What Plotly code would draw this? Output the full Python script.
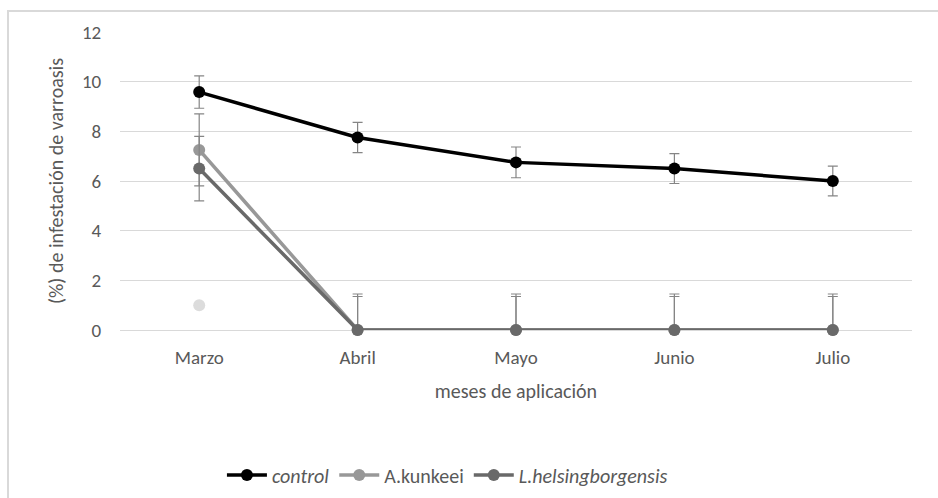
import plotly.graph_objects as go

months = ["Marzo", "Abril", "Mayo", "Junio", "Julio"]
control = [9.58, 7.75, 6.75, 6.5, 6.0]
control_err = [0.65, 0.61, 0.62, 0.6, 0.6]
kunkeei = [7.25, 0, 0, 0, 0]
kunkeei_err = [1.45, 1.45, 1.45, 1.45, 1.45]
helsing = [6.5, 0, 0, 0, 0]
helsing_err = [1.3, 1.35, 1.35, 1.35, 1.35]
extra_x = ["Marzo"]
extra = [1.0]

FONT = "Calibri, Carlito, Lato, sans-serif"
TXT = "#595959"

def minus(vals, errs):
    return [min(v, e) for v, e in zip(vals, errs)]

fig = go.Figure()
series = [
    ("<i>control</i>", control, control_err, "#000000"),
    ("A.kunkeei", kunkeei, kunkeei_err, "#989898"),
    ("<i>L.helsingborgensis</i>", helsing, helsing_err, "#696969"),
]
for name, vals, errs, col in series:
    fig.add_trace(go.Scatter(
        x=months, y=vals, name=name, mode="lines+markers",
        line=dict(color=col, width=3.5),
        marker=dict(color=col, size=12),
        error_y=dict(type="data", array=errs, arrayminus=minus(vals, errs),
                     color="#858585", thickness=1.2, width=5),
        cliponaxis=False,
    ))
fig.add_trace(go.Scatter(
    x=extra_x, y=extra, mode="markers", showlegend=False,
    marker=dict(color="#dcdcdc", size=12), cliponaxis=False,
))

fig.add_shape(type="rect", xref="paper", yref="paper",
              x0=(8 - 120) / 792, x1=2, y0=-2, y1=(330 - 11) / 298,
              line=dict(color="#d9d9d9", width=2), fillcolor="rgba(0,0,0,0)",
              layer="below")

fig.update_layout(
    width=938, height=498,
    margin=dict(l=120, r=26, t=32, b=168),
    paper_bgcolor="white", plot_bgcolor="white",
    font=dict(family=FONT, color=TXT, size=19),
    showlegend=True,
    legend=dict(orientation="h", xref="container", yref="container",
                x=0.477, xanchor="center", y=0.046, yanchor="middle",
                font=dict(size=20, color=TXT), itemwidth=40,
                traceorder="normal"),
    xaxis=dict(
        type="category", range=[-0.5, 4.5], showgrid=False,
        showline=False, zeroline=False,
        ticks="outside", ticklen=10, tickcolor="rgba(0,0,0,0)",
        tickfont=dict(size=19, color=TXT),
        title=dict(text="meses de aplicación", font=dict(size=20, color=TXT), standoff=16),
    ),
    yaxis=dict(
        range=[0, 12], tickvals=[0, 2, 4, 6, 8, 10, 12],
        showgrid=True, gridcolor="#d9d9d9", gridwidth=1,
        zeroline=True, zerolinecolor="#d9d9d9", zerolinewidth=1,
        showline=False,
        ticks="outside", ticklen=14, tickcolor="rgba(0,0,0,0)",
        tickfont=dict(size=19, color=TXT),
        title=dict(text="(%) de infestación de varroasis", font=dict(size=20, color=TXT), standoff=12),
    ),
)

fig.write_html("out.html", config={"displayModeBar": False},
               post_script="document.body.style.margin='0';")
